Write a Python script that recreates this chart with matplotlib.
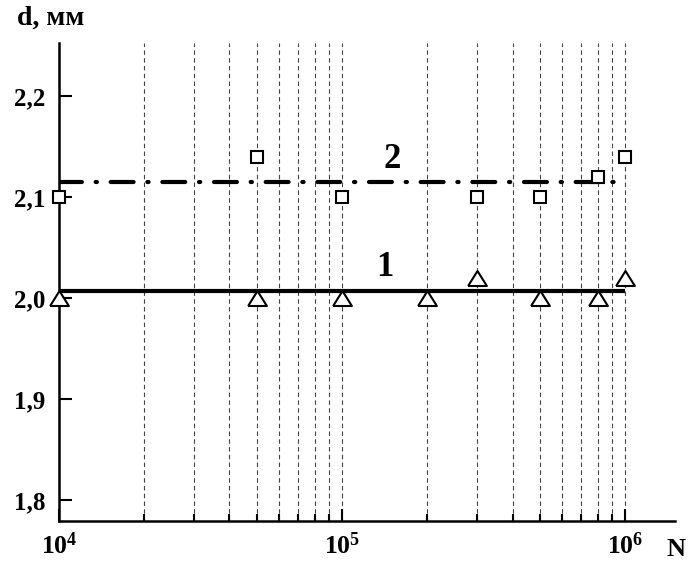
import numpy as np
import matplotlib
matplotlib.use("Agg")
import matplotlib.pyplot as plt
from matplotlib.ticker import FixedLocator, NullFormatter

plt.rcParams["font.family"] = "Liberation Serif"
plt.rcParams["font.weight"] = "bold"
plt.rcParams["mathtext.fontset"] = "custom"
plt.rcParams["mathtext.rm"] = "Liberation Serif:bold"
plt.rcParams["mathtext.it"] = "Liberation Serif:bold"
plt.rcParams["mathtext.bf"] = "Liberation Serif:bold"

# series 1 (triangles) and series 2 (squares)
n_1 = [1e4, 5e4, 1e5, 2e5, 3e5, 5e5, 8e5, 1e6]
d_1 = [2.00, 2.00, 2.00, 2.00, 2.02, 2.00, 2.00, 2.02]
n_2 = [1e4, 5e4, 1e5, 3e5, 5e5, 8e5, 1e6]
d_2 = [2.10, 2.14, 2.10, 2.10, 2.10, 2.12, 2.14]

# mean levels of each series
level_1 = 2.007
level_2 = 2.115
line_span = [1e4, 1e6]

y_ticks = [1.8, 1.9, 2.0, 2.1, 2.2]
y_tick_labels = ["1,8", "1,9", "2,0", "2,1", "2,2"]
x_major = [1e4, 1e5, 1e6]
x_major_labels = ["10$^{4}$", "10$^{5}$", "10$^{6}$"]
x_minor = [m * 10 ** e for e in (4, 5) for m in range(2, 10)]

fig = plt.figure(figsize=(6.89, 5.62), dpi=100)
ax = fig.add_axes([0.0856, 0.0730, 0.9797 - 0.0856, 0.9235 - 0.0730])

ax.set_xscale("log")
ax.set_xlim(1e4, 1.5e6)
ax.set_ylim(1.7792, 2.2525)

# vertical dashed grid
for xv in x_minor + [1e5, 1e6]:
    ax.axvline(xv, color="#444444", lw=0.8, dashes=(4, 3), zorder=0)

ax.plot(line_span, [level_1, level_1], color="black", lw=3.0,
        solid_capstyle="butt", zorder=2)
ax.plot(line_span, [level_2, level_2], color="black", lw=3.0,
        dashes=(5.5, 3.3, 0.3, 3.3), dash_capstyle="round", zorder=2)

tri = [(-1.0, -0.8), (1.0, -0.8), (0.0, 0.8), (-1.0, -0.8)]
ax.plot(n_1, d_1, linestyle="none", marker=tri, ms=13.5, mfc="white",
        mec="black", mew=1.5, clip_on=False, zorder=3)
ax.plot(n_2, d_2, linestyle="none", marker="s", ms=8, mfc="white",
        mec="black", mew=1.5, clip_on=False, zorder=3)

ax.text(1.42e5, 2.030, "1", fontsize=25, ha="center", va="center")
ax.text(1.5e5, 2.137, "2", fontsize=25, ha="center", va="center")

for side in ("top", "right"):
    ax.spines[side].set_visible(False)
for side in ("left", "bottom"):
    ax.spines[side].set_linewidth(1.8)

ax.set_yticks(y_ticks)
ax.set_yticklabels(y_tick_labels)
ax.xaxis.set_major_locator(FixedLocator(x_major))
ax.set_xticklabels(x_major_labels)
ax.xaxis.set_minor_locator(FixedLocator(x_minor))
ax.xaxis.set_minor_formatter(NullFormatter())

ax.tick_params(axis="both", which="major", direction="in", length=9,
               width=1.5, labelsize=18, pad=10)
ax.tick_params(axis="x", which="major", labelsize=18.5, pad=8)
ax.tick_params(axis="x", which="minor", direction="in", length=5, width=1.5)
ax.tick_params(axis="y", which="minor", left=False)

fig.text(17 / 689, 1 - 18 / 562, "d, мм", fontsize=20, ha="left", va="center")
fig.text(676 / 689, 1 - 550 / 562, "N", fontsize=19, ha="center", va="center")

fig.savefig("out.png", dpi=100)
